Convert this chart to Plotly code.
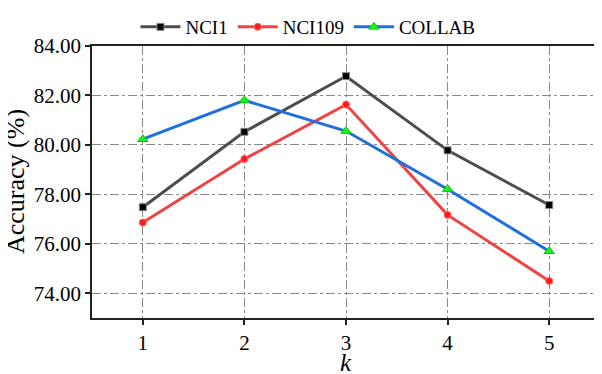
import plotly.graph_objects as go

k_values = [1, 2, 3, 4, 5]
nci1 = [77.48, 80.53, 82.78, 79.78, 77.57]
nci109 = [76.86, 79.43, 81.63, 77.17, 74.50]
collab = [80.23, 81.80, 80.56, 78.21, 75.70]
y_ticks = [74, 76, 78, 80, 82, 84]

FONT = "Liberation Serif"

fig = go.Figure()

fig.add_trace(go.Scatter(
    x=k_values, y=nci1, mode="lines+markers", name="NCI1",
    line=dict(color="#4d4d4d", width=3),
    marker=dict(symbol="square", size=7, color="black",
                line=dict(color="#888888", width=1)),
))
fig.add_trace(go.Scatter(
    x=k_values, y=nci109, mode="lines+markers", name="NCI109",
    line=dict(color="#f04444", width=3),
    marker=dict(symbol="circle", size=7, color="#ff1a1a",
                line=dict(color="#ff6666", width=1)),
))
fig.add_trace(go.Scatter(
    x=k_values, y=collab, mode="lines+markers", name="COLLAB",
    line=dict(color="#1f6fdc", width=3),
    marker=dict(symbol="triangle-up", size=9, color="#22ee22",
                line=dict(color="#00cc00", width=1)),
))

axis_common = dict(
    showline=True, linecolor="#222222", linewidth=1.5, mirror=True,
    ticks="outside", ticklen=5, tickwidth=1.5, tickcolor="#222222",
    showgrid=True, gridcolor="#8a8a8a", gridwidth=1, griddash="dashdot",
    zeroline=False, automargin=False,
    tickfont=dict(family=FONT, size=21, color="black"),
)

# axis titles as annotations so their distance from the axes is exact
fig.add_annotation(text="Accuracy (%)", xref="paper", yref="paper", x=0, y=0.5,
                   xanchor="center", yanchor="middle", xshift=-77, textangle=-90,
                   showarrow=False, font=dict(family=FONT, size=26, color="black"))
fig.add_annotation(text="<i>k</i>", xref="paper", yref="paper", x=0.5, y=0,
                   xanchor="center", yanchor="middle", yshift=-44,
                   showarrow=False, font=dict(family=FONT, size=25, color="black"))

# page body has an 8px margin, so the figure is sized/offset to compensate
fig.update_layout(
    width=594, height=366,
    margin=dict(l=84, r=2, t=27, b=56),
    paper_bgcolor="white", plot_bgcolor="white",
    font=dict(family=FONT, color="black"),
    xaxis=dict(range=[0.5, 5.5], tickvals=k_values, **axis_common),
    yaxis=dict(range=[73, 84], tickvals=y_ticks, tickformat=".2f", **axis_common),
    legend=dict(orientation="h", xref="container", yref="container",
                x=0.505, xanchor="center", y=1.0, yanchor="top",
                font=dict(family=FONT, size=19), itemwidth=40,
                bgcolor="rgba(0,0,0,0)", tracegroupgap=0),
    showlegend=True,
)

fig.write_html("out.html")
